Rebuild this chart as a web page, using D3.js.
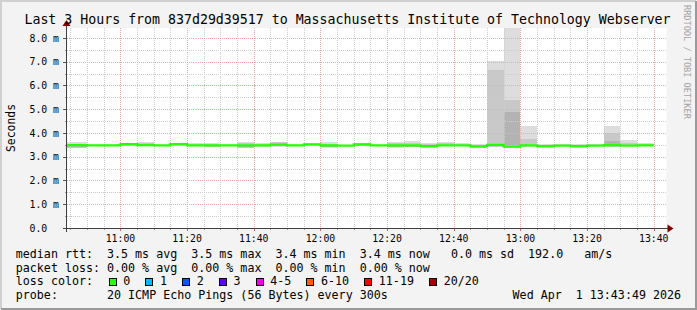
<!DOCTYPE html>
<html lang="en">
<head>
<meta charset="UTF-8">
<title>Last 3 Hours - smokeping</title>
<script src="https://d3js.org/d3.v7.min.js"></script>
<style>
  body { margin: 0; background: #fff; }
  svg { display: block; }
  text { font-family: "DejaVu Sans Mono", monospace; white-space: pre; fill: #000; }
</style>
</head>
<body>
<svg id="chart"></svg>
<script>
// ---- data (5 minute steps, value = interval end) ----
var titleText = "Last 3 Hours from 837d29d39517 to Massachusetts Institute of Technology Webserver";
var windowStart = "10:43:49", windowEnd = "13:43:49";

var stepEnds = ["10:45","10:50","10:55","11:00","11:05","11:10","11:15","11:20","11:25","11:30",
                "11:35","11:40","11:45","11:50","11:55","12:00","12:05","12:10","12:15","12:20",
                "12:25","12:30","12:35","12:40","12:45","12:50","12:55","13:00","13:05","13:10",
                "13:15","13:20","13:25","13:30","13:35","13:40"];

// median rtt in ms
var median = [3.49,3.49,3.48,3.48,3.53,3.49,3.48,3.53,3.48,3.48,3.48,3.48,3.48,3.51,3.48,3.52,3.48,3.47,
              3.52,3.48,3.48,3.48,3.45,3.48,3.48,3.44,3.50,3.42,3.48,3.45,3.47,3.45,3.47,3.49,3.47,3.48];

// smoke: outer (light), middle and core (dark) bands, ms
var smokeMin = [3.36,3.36,3.44,3.44,3.46,3.46,3.44,3.47,3.46,3.40,3.44,3.35,3.42,3.43,3.45,3.47,3.38,3.45,
                3.44,3.45,3.38,3.44,3.38,3.46,3.44,3.36,3.40,3.36,3.42,3.38,3.44,3.38,3.44,3.40,3.44,3.44];
var smokeMax = [3.63,3.63,3.50,3.50,3.56,3.63,3.50,3.56,3.58,3.58,3.50,3.63,3.58,3.63,3.50,3.58,3.60,3.50,
                3.58,3.50,3.63,3.68,3.58,3.63,3.58,3.52,7.01,8.60,4.31,3.52,3.52,3.55,3.52,4.28,3.72,3.58];
var midLo    = [3.38,3.38,3.45,3.45,3.47,3.47,3.45,3.48,3.46,3.42,3.45,3.38,3.44,3.44,3.46,3.48,3.40,3.46,
                3.45,3.46,3.40,3.45,3.40,3.46,3.45,3.38,3.42,3.40,3.44,3.40,3.45,3.40,3.45,3.42,3.45,3.45];
var midHi    = [3.55,3.55,3.49,3.49,3.55,3.58,3.49,3.55,3.54,3.52,3.49,3.56,3.52,3.60,3.49,3.55,3.54,3.49,
                3.56,3.49,3.56,3.58,3.52,3.56,3.53,3.48,6.67,5.40,3.75,3.48,3.49,3.50,3.49,4.00,3.56,3.52];
var coreLo   = [3.40,3.40,3.46,3.46,3.48,3.48,3.46,3.49,3.47,3.44,3.46,3.41,3.45,3.44,3.47,3.49,3.43,3.46,
                3.46,3.47,3.42,3.43,3.42,3.47,3.46,3.40,3.44,3.42,3.46,3.42,3.46,3.41,3.46,3.44,3.46,3.46];
var coreHi   = [3.45,3.45,3.48,3.48,3.52,3.50,3.48,3.52,3.50,3.48,3.48,3.48,3.49,3.55,3.48,3.52,3.48,3.47,
                3.52,3.48,3.48,3.47,3.45,3.50,3.49,3.44,3.48,4.87,3.50,3.45,3.47,3.45,3.47,3.65,3.49,3.49];

var xTickLabels = ["11:00","11:20","11:40","12:00","12:20","12:40","13:00","13:20","13:40"];
var yTicks = [0,1,2,3,4,5,6,7,8];

var lossLabels = ["0","1","2","3","4-5","6-10","11-19","20/20"];
var lossColors = ["#26ff00","#00b8ff","#0059ff","#5e00ff","#ee00ee","#ff5e00","#ff0000","#a10000"];

var legendRows = [
  "median rtt:  3.5 ms avg  3.5 ms max  3.4 ms min  3.4 ms now   0.0 ms sd  192.0   am/s",
  "packet loss: 0.00 % avg  0.00 % max  0.00 % min  0.00 % now",
  "loss color:",
  "probe:       20 ICMP Echo Pings (56 Bytes) every 300s"
];
var stampText = "Wed Apr  1 13:43:49 2026";

// ---- layout ----
var W = 697, H = 310;
var pLeft = 66.5, pRight = 666.5, pTop = 28, pBottom = 228;
var charW = 7.03;

var parseHM = d3.timeParse("%H:%M"), parseHMS = d3.timeParse("%H:%M:%S");

var x = d3.scaleTime()
    .domain([parseHMS(windowStart), parseHMS(windowEnd)])
    .range([pLeft, pRight]);
var y = d3.scaleLinear()
    .domain([0, 8.42])
    .range([pBottom, pTop]);

var svg = d3.select("#chart").attr("width", W).attr("height", H);

// background + 3d frame
svg.append("rect").attr("width", W).attr("height", H).attr("fill", "#f3f3f3");
svg.append("path").attr("d", "M1,309V1H696").attr("fill", "none").attr("stroke", "#d0d0d0").attr("stroke-width", 2);
svg.append("path").attr("d", "M1,309H696V1").attr("fill", "none").attr("stroke", "#9a9a9a").attr("stroke-width", 2);

// canvas
svg.append("rect").attr("x", pLeft).attr("y", pTop)
    .attr("width", pRight - pLeft).attr("height", pBottom - pTop).attr("fill", "#fff");

svg.append("clipPath").attr("id", "plot")
  .append("rect").attr("x", pLeft).attr("y", pTop)
    .attr("width", pRight - pLeft).attr("height", pBottom - pTop);

var rows = stepEnds.map(function(t, i) {
  var end = parseHM(t);
  return {
    x0: x(d3.timeMinute.offset(end, -5)), x1: x(end),
    med: median[i],
    bands: [[smokeMin[i], smokeMax[i]], [midLo[i], midHi[i]], [coreLo[i], coreHi[i]]]
  };
});

// smoke
var smoke = svg.append("g").attr("clip-path", "url(#plot)");
var shades = ["#dddddd", "#c8c8c8", "#b3b3b3"];
shades.forEach(function(col, b) {
  smoke.selectAll(null).data(rows).enter().append("rect")
    .attr("x", function(d) { return d.x0; })
    .attr("width", function(d) { return d.x1 - d.x0; })
    .attr("y", function(d) { return y(d.bands[b][1]); })
    .attr("height", function(d) { return y(d.bands[b][0]) - y(d.bands[b][1]); })
    .attr("fill", col)
    .attr("shape-rendering", "crispEdges");
});

// grid (dotted, drawn over the smoke like rrdtool)
var grid = svg.append("g").attr("shape-rendering", "crispEdges");
var minorT = d3.timeMinute.every(5).range(x.domain()[0], x.domain()[1]);
minorT.forEach(function(t) {
  var px = Math.round(x(t)) + 0.5;
  var major = t.getMinutes() % 20 === 0;
  grid.append("line").attr("x1", px).attr("x2", px).attr("y1", pTop).attr("y2", pBottom)
    .attr("stroke", major ? "#eeaaaa" : "#cccccc").attr("stroke-dasharray", "1,1");
  grid.append("line").attr("x1", px).attr("x2", px).attr("y1", pBottom).attr("y2", pBottom + (major ? 3 : 2))
    .attr("stroke", major ? "#d06060" : "#999");
});
d3.range(0.5, 8.5, 0.5).forEach(function(v) {
  var py = Math.round(y(v)) + 0.5;
  var major = v % 1 === 0;
  grid.append("line").attr("x1", pLeft).attr("x2", pRight).attr("y1", py).attr("y2", py)
    .attr("stroke", major ? "#eeaaaa" : "#cccccc").attr("stroke-dasharray", "1,1");
  grid.append("line").attr("x1", pLeft - (major ? 4 : 2)).attr("x2", pLeft).attr("y1", py).attr("y2", py)
    .attr("stroke", major ? "#555" : "#999");
});

// median step line
var medPts = [];
rows.forEach(function(d) { medPts.push([d.x0, d.med], [d.x1, d.med]); });
svg.append("path")
  .attr("clip-path", "url(#plot)")
  .attr("d", d3.line().x(function(p) { return p[0]; }).y(function(p) { return y(p[1]); })(medPts))
  .attr("fill", "none").attr("stroke", lossColors[0]).attr("stroke-width", 2.2);

// axes
var ax = svg.append("g").attr("shape-rendering", "crispEdges");
ax.append("line").attr("x1", pLeft - 4).attr("x2", pRight + 2).attr("y1", pBottom + 0.5).attr("y2", pBottom + 0.5)
  .attr("stroke", "#404040");
ax.append("line").attr("x1", pLeft).attr("x2", pLeft).attr("y1", pBottom + 4).attr("y2", pTop - 3)
  .attr("stroke", "#404040");
svg.append("path").attr("d", "M" + (pRight + 1) + "," + (pBottom - 3.5) + "l6,4l-6,4z").attr("fill", "#800000");
svg.append("path").attr("d", "M" + (pLeft - 4) + "," + (pTop - 2) + "l4,-6l4,6z").attr("fill", "#800000");

// tick labels
svg.selectAll(".ylab").data(yTicks).enter().append("text")
  .attr("class", "ylab")
  .attr("x", 29.5)
  .attr("y", function(v) { return y(v) + 3.6; })
  .style("font-size", "9.8px")
  .text(function(v) { return v === 0 ? "0.0" : v.toFixed(1) + " m"; });

svg.selectAll(".xlab").data(xTickLabels).enter().append("text")
  .attr("class", "xlab")
  .attr("x", function(t) { return x(parseHM(t)); })
  .attr("y", 241.6)
  .attr("text-anchor", "middle")
  .style("font-size", "9.8px")
  .text(function(t) { return t; });

// title
svg.append("text").attr("x", 347.5).attr("y", 24).attr("text-anchor", "middle")
  .style("font-size", "13.25px").text(titleText);

// unit label
svg.append("text").attr("transform", "translate(14.5," + ((pTop + pBottom) / 2) + ") rotate(-90)")
  .attr("text-anchor", "middle").style("font-size", "11.4px").text("Seconds");

// watermark
svg.append("text").attr("transform", "translate(684,5) rotate(90)")
  .style("font-size", "8.6px").style("fill", "#a4a4a4").text("RRDTOOL / TOBI OETIKER");

// legend
var rowY = [257.8, 271.6, 285.4, 299.2];
legendRows.forEach(function(s, i) {
  svg.append("text").attr("x", 15.8).attr("y", rowY[i]).style("font-size", "11.67px").text(s);
});
svg.append("text").attr("x", 512.6).attr("y", rowY[3]).style("font-size", "11.67px").text(stampText);

var bx = 108.7;
lossLabels.forEach(function(lab, i) {
  svg.append("rect").attr("x", bx + 0.5).attr("y", 278.8).attr("width", 7).attr("height", 7)
    .attr("fill", lossColors[i]).attr("stroke", "#000").attr("stroke-width", 1)
    .attr("shape-rendering", "crispEdges");
  svg.append("text").attr("x", bx + 14.6).attr("y", rowY[2]).style("font-size", "11.67px").text(lab);
  bx += lab.length * charW + 29.7;
});
</script>
</body>
</html>
